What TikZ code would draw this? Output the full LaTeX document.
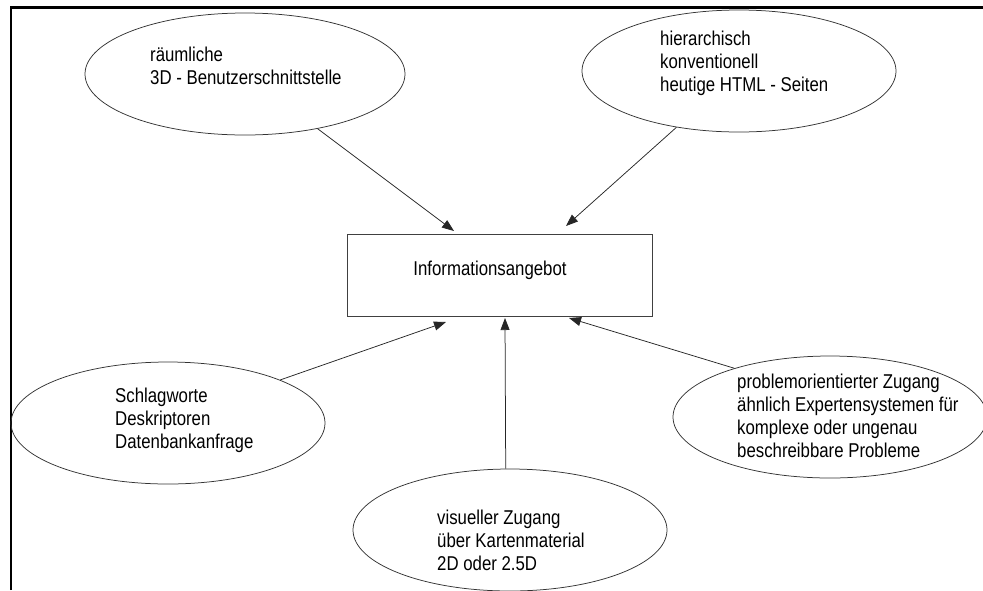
\documentclass[tikz,border=0pt]{standalone}
\usepackage{fontspec}
\setmainfont{Liberation Sans}[FakeStretch=0.84]
\usetikzlibrary{arrows.meta,shapes.geometric}

\begin{document}
\begin{tikzpicture}[x=1pt,y=-1pt,
  bubble/.style={draw=black!80, line width=0.75pt, ellipse,
    minimum width=314pt, minimum height=122pt, inner sep=0pt},
  box/.style={draw=black!75, line width=0.8pt, rectangle,
    minimum width=305pt, minimum height=82pt, inner sep=0pt},
  txt/.style={anchor=west, align=left, inner sep=0pt,
    font=\fontsize{20}{23}\selectfont},
  link/.style={draw=black!85, line width=0.75pt,
    -{Triangle[length=12pt,width=9pt]}}
]
\useasboundingbox (0,0) rectangle (983,590);

% page frame (left and top edges only)
\draw[line width=2.6pt, line join=miter] (11,590) -- (11,7.5) -- (983,7.5);

% central box
\node[box] (info) at (499.5,275) {};
\node[txt, anchor=center] (infotext) at (490,270) {Informationsangebot};

% surrounding bubbles
\node[bubble, minimum width=320pt] (tl) at (245,74) {};
\node[bubble] (tr) at (739,71)  {};
\node[bubble] (bl) at (168,423) {};
\node[bubble] (br) at (830,417) {};
\node[bubble] (bm) at (510,530) {};

\node[txt] (tltext) at (150,66) {räumliche\\3D - Benutzerschnittstelle};
\node[txt] (trtext) at (660,63) {hierarchisch\\konventionell\\heutige HTML - Seiten};
\node[txt] (bltext) at (115,420) {Schlagworte\\Deskriptoren\\Datenbankanfrage};
\node[txt] (brtext) at (737,415.5) {problemorientierter Zugang\\ähnlich Expertensystemen für\\komplexe oder ungenau\\beschreibbare Probleme};
\node[txt] (bmtext) at (437,540) {visueller Zugang\\über Kartenmaterial\\2D oder 2.5D};

% arrow tips just outside the box
\coordinate (inTL) at (454,231);
\coordinate (inTR) at (566,226);
\coordinate (inBL) at (446,322);
\coordinate (inBM) at (505,318);
\coordinate (inBR) at (569,318);

\draw[link] (tl.-37)    -- (inTL);
\draw[link] (tr.-138.5) -- (inTR);
\draw[link] (bl.21.4)   -- (inBL);
\draw[link] (bm.94.8)   -- (inBM);
\draw[link] (br.153.9)  -- (inBR);
\end{tikzpicture}
\end{document}
